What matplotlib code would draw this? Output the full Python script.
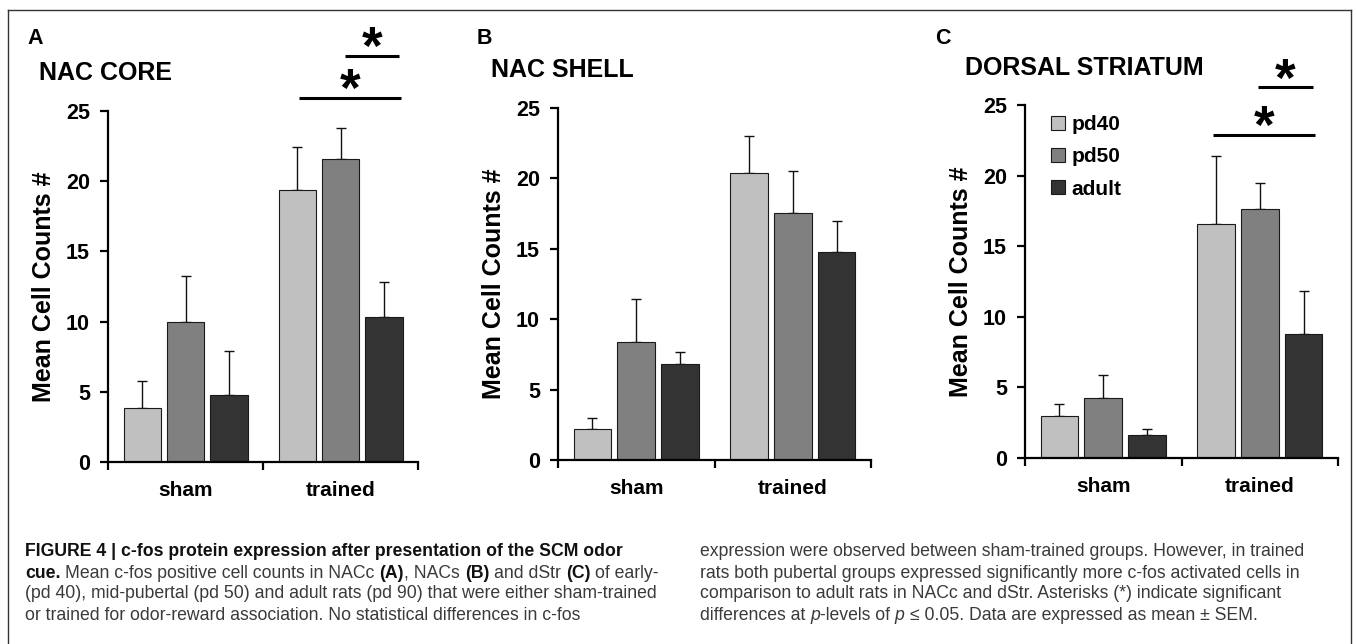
import matplotlib
matplotlib.use('Agg')
import matplotlib.pyplot as plt
import matplotlib.transforms as mtransforms
from matplotlib import font_manager
from matplotlib.lines import Line2D

# ---------------------------------------------------

groups = ['sham', 'trained']
ages = ['pd40', 'pd50', 'adult']
bar_colors = ['#c0c0c0', '#808080', '#333333']

# rows: sham, trained / cols: pd40, pd50, adult
core_mean = [[3.85, 10.0, 4.8], [19.4, 21.6, 10.3]]
core_sem = [[1.9, 3.25, 3.1], [3.05, 2.2, 2.55]]

shell_mean = [[2.2, 8.35, 6.85], [20.4, 17.55, 14.75]]
shell_sem = [[0.8, 3.1, 0.85], [2.6, 2.95, 2.2]]

dstr_mean = [[3.0, 4.25, 1.6], [16.6, 17.65, 8.8]]
dstr_sem = [[0.85, 1.6, 0.45], [4.8, 1.8, 3.05]]

# significance brackets (x from, x to, height)
core_sig = [(1.23, 1.89, 25.95), (1.53, 1.88, 28.95)]
dstr_sig = [(1.2, 1.85, 22.9), (1.49, 1.84, 26.25)]

caption_left = [
    [('FIGURE 4 | c-fos protein expression after presentation of the SCM odor', 'bold', 'normal')],
    [('cue. ', 'bold', 'normal'), ('Mean c-fos positive cell counts in NACc ', 'normal', 'normal'),
     ('(A)', 'bold', 'normal'), (', NACs ', 'normal', 'normal'), ('(B) ', 'bold', 'normal'),
     ('and dStr ', 'normal', 'normal'), ('(C) ', 'bold', 'normal'), ('of early-', 'normal', 'normal')],
    [('(pd 40), mid-pubertal (pd 50) and adult rats (pd 90) that were either sham-trained', 'normal', 'normal')],
    [('or trained for odor-reward association. No statistical differences in c-fos', 'normal', 'normal')],
]
caption_right = [
    [('expression were observed between sham-trained groups. However, in trained', 'normal', 'normal')],
    [('rats both pubertal groups expressed significantly more c-fos activated cells in', 'normal', 'normal')],
    [('comparison to adult rats in NACc and dStr. Asterisks (*) indicate significant', 'normal', 'normal')],
    [('differences at ', 'normal', 'normal'), ('p', 'normal', 'italic'), ('-levels of ', 'normal', 'normal'),
     ('p ', 'normal', 'italic'), ('\u2264 0.05. Data are expressed as mean \u00b1 SEM.', 'normal', 'normal')],
]

# ---------------------------------------------------

W, H = 1356, 644
plt.rcParams['font.family'] = ['Liberation Sans', 'DejaVu Sans']
installed = {f.name for f in font_manager.fontManager.ttflist}
cap_font = 'Liberation Sans Narrow' if 'Liberation Sans Narrow' in installed else 'Liberation Sans'

fig = plt.figure(figsize=(W / 100, H / 100), dpi=100)


def px_rect(l, t, r, b):
    return [l / W, 1 - b / H, (r - l) / W, (b - t) / H]


def panel(rect, means, sems, title, letter, title_xy, letter_xy, sig=None, legend=False):
    ax = fig.add_axes(px_rect(*rect))
    width_px = rect[2] - rect[0]
    for i, age in enumerate(ages):
        xs = [g + 0.5 + (i - 1) * 0.28 for g in range(len(groups))]
        vals = [means[g][i] for g in range(len(groups))]
        errs = [sems[g][i] for g in range(len(groups))]
        ax.bar(xs, vals, width=0.24, color=bar_colors[i], edgecolor='#1a1a1a', linewidth=0.8,
               label=age, zorder=2)
        ax.errorbar(xs, vals, yerr=[[0] * len(errs), errs], fmt='none', ecolor='#111111',
                    elinewidth=1.0, capsize=3.5, capthick=1.0, zorder=1)
    ax.set_xlim(0, 2)
    ax.set_ylim(0, 25)
    ax.set_yticks([0, 5, 10, 15, 20, 25])
    ax.set_xticks([0, 1, 2])
    ax.set_xticklabels([])
    ax.set_xticks([0.5, 1.5], minor=True)
    ax.set_xticklabels(groups, minor=True, fontsize=15, fontweight='bold')
    ax.tick_params(axis='x', which='minor', length=0, pad=14)
    ax.tick_params(axis='x', which='major', direction='out', length=6, width=1.6)
    ax.tick_params(axis='y', direction='out', length=6, width=1.6, pad=7, labelsize=15.5)
    for lab in ax.get_yticklabels():
        lab.set_fontweight('bold')
    for s in ['top', 'right']:
        ax.spines[s].set_visible(False)
    for s in ['left', 'bottom']:
        ax.spines[s].set_linewidth(1.6)
    ax.set_ylabel('Mean Cell Counts #', fontsize=18, fontweight='bold')
    ax.yaxis.set_label_coords(-52 / width_px, 0.5)

    fig.text(letter_xy[0] / W, 1 - letter_xy[1] / H, letter, fontsize=15.5, fontweight='bold',
             ha='left', va='center')
    fig.text(title_xy[0] / W, 1 - title_xy[1] / H, title, fontsize=18, fontweight='bold',
             ha='left', va='center')

    if sig:
        star_off = mtransforms.offset_copy(ax.transData, fig=fig, y=-0.55 * 38, units='points')
        for x0, x1, y in sig:
            ax.plot([x0, x1], [y, y], color='black', lw=2.2, clip_on=False, solid_capstyle='butt')
            ax.text((x0 + x1) / 2, y + 1.45, '*', fontsize=38, fontweight='bold', ha='center',
                    va='baseline', transform=star_off, clip_on=False)

    if legend:
        ax.legend(loc='upper left', bbox_to_anchor=(26 / width_px, 1 - 10 / 353), frameon=False,
                  prop={'size': 15, 'weight': 'bold'}, handlelength=0.65, handleheight=0.65,
                  handletextpad=0.35, labelspacing=0.64, borderpad=0, borderaxespad=0)
    return ax


panel([108, 111, 418, 462], core_mean, core_sem, 'NAC CORE', 'A', (39, 73), (27, 39), sig=core_sig)
panel([558, 108, 871, 460], shell_mean, shell_sem, 'NAC SHELL', 'B', (491, 70), (477, 38))
panel([1025, 105, 1338, 458], dstr_mean, dstr_sem, 'DORSAL STRIATUM', 'C', (965, 68), (935, 38),
      sig=dstr_sig, legend=True)

# frame around the figure
frame_kw = dict(transform=fig.transFigure, color='#333333', lw=1.0)
fig.add_artist(Line2D([8 / W, 8 / W], [0, 1 - 10 / H], **frame_kw))
fig.add_artist(Line2D([1351 / W, 1351 / W], [0, 1 - 10 / H], **frame_kw))
fig.add_artist(Line2D([8 / W, 1351 / W], [1 - 10 / H, 1 - 10 / H], **frame_kw))

# caption
renderer = fig.canvas.get_renderer()


def text_w(s, size, weight, style):
    prop = font_manager.FontProperties(family=[cap_font, 'DejaVu Sans'], size=size,
                                       weight=weight, style=style)
    w1, _, _ = renderer.get_text_width_height_descent('|' + s + '|', prop, ismath=False)
    w2, _, _ = renderer.get_text_width_height_descent('||', prop, ismath=False)
    return w1 - w2


ref_line = caption_left[2][0][0]
cap_size = 10 * 635 / text_w(ref_line, 10, 'normal', 'normal')


def rich_line(x, y, parts):
    for txt, weight, style in parts:
        fig.text(x / W, 1 - y / H, txt.rstrip(), fontsize=cap_size, fontweight=weight,
                 fontstyle=style, family=[cap_font, 'DejaVu Sans'], ha='left', va='center',
                 color='#111111' if weight == 'bold' else '#3a3a3a')
        x += text_w(txt, cap_size, weight, style)


for k, parts in enumerate(caption_left):
    rich_line(25, 552 + 21 * k, parts)
for k, parts in enumerate(caption_right):
    rich_line(700, 552 + 21 * k, parts)

fig.savefig('out.png', dpi=100)
